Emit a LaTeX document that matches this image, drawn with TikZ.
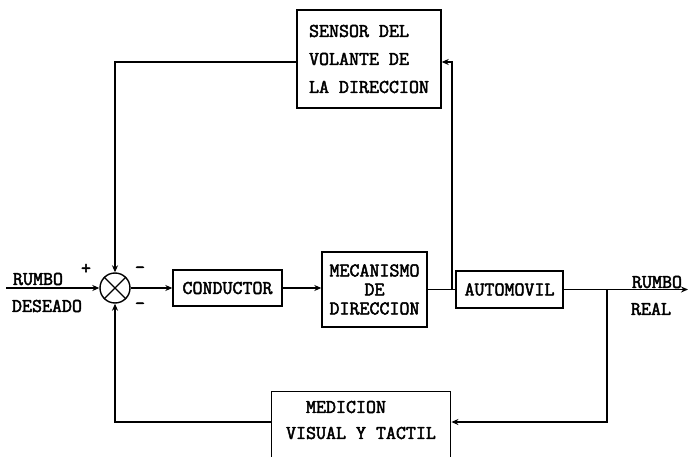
\documentclass[tikz,border=0pt]{standalone}
\usepackage{fontspec}
\setmonofont{Latin Modern Mono}[AutoFakeBold=2.5]
\usetikzlibrary{arrows.meta}
\begin{document}
\begin{tikzpicture}[x=1pt,y=-1pt,
  txt/.style={font=\ttfamily\bfseries\fontsize{19.4}{20}\selectfont, inner sep=0pt},
  blk/.style={draw, line width=1.4pt, rectangle, txt},
  wire/.style={line width=1.6pt},
  arr/.style={wire, -{Stealth[length=7pt,width=6pt]}}
]
\useasboundingbox (0,0) rectangle (688,457);
\clip (0,0) rectangle (688,457);

% summing junction
\node[draw, circle, minimum size=30pt, inner sep=0pt, line width=1.4pt] (sum) at (115,288) {};
\draw[line width=1.4pt] (sum.north west) -- (sum.south east) (sum.north east) -- (sum.south west);

% blocks
\node[blk, minimum width=109pt, minimum height=36pt] (cond) at (227.5,288) {CONDUCTOR};
\node[blk, minimum width=105pt, minimum height=75pt, align=center,
      font=\ttfamily\bfseries\fontsize{19.4}{19}\selectfont] (mec) at (374.5,289.5) {MECANISMO\\DE\\DIRECCION};
\node[blk, minimum width=107pt, minimum height=37pt] (auto) at (509.5,289.5) {AUTOMOVIL};
\node[blk, minimum width=144pt, minimum height=98pt, align=left,
      font=\ttfamily\bfseries\fontsize{19.4}{28}\selectfont] (sens) at (369,59) {SENSOR DEL\\VOLANTE DE\\LA DIRECCION};
\node[blk, minimum width=179pt, minimum height=72pt, anchor=north west] (med) at (271,391) {};
\node[txt] (medA) at (346,407) {MEDICION};
\node[txt] (medB) at (361,433) {VISUAL Y TACTIL};

% labels
\node[txt] (rumboA) at (38,279) {RUMBO};
\node[txt] (deseado) at (47,306) {DESEADO};
\node[txt] (rumboB) at (657,282) {RUMBO};
\node[txt] (real) at (651,309) {REAL};
\node[txt] (plus) at (86,269) {+};
\node[txt] (m1) at (140,270) {-};
\node[txt] (m2) at (140,306) {-};

% coordinates
\coordinate (in) at (6,288);
\coordinate (out) at (688,290);
\coordinate (up) at (452,290);
\coordinate (upT) at (452,62);
\coordinate (fbT) at (115,62);
\coordinate (dn) at (607,290);
\coordinate (dnB) at (607,422);
\coordinate (fbB) at (115,422);

% connectors
\draw[arr] (in) -- (sum.west);
\draw[arr] (sum.east) -- (cond.west);
\draw[arr] (cond.east) -- (cond.east -| mec.west);
\draw[wire] (mec.east) -- (auto.west);
\draw[arr] (up) -- (upT) -- (upT -| sens.east);
\draw[arr] (sens.west |- fbT) -- (fbT) -- (sum.north);
\draw[arr] (auto.east) -- (auto.east -| out);
\draw[arr] (dn) -- (dnB) -- (dnB -| med.east);
\draw[arr] (med.west |- fbB) -- (fbB) -- (sum.south);
\end{tikzpicture}
\end{document}
